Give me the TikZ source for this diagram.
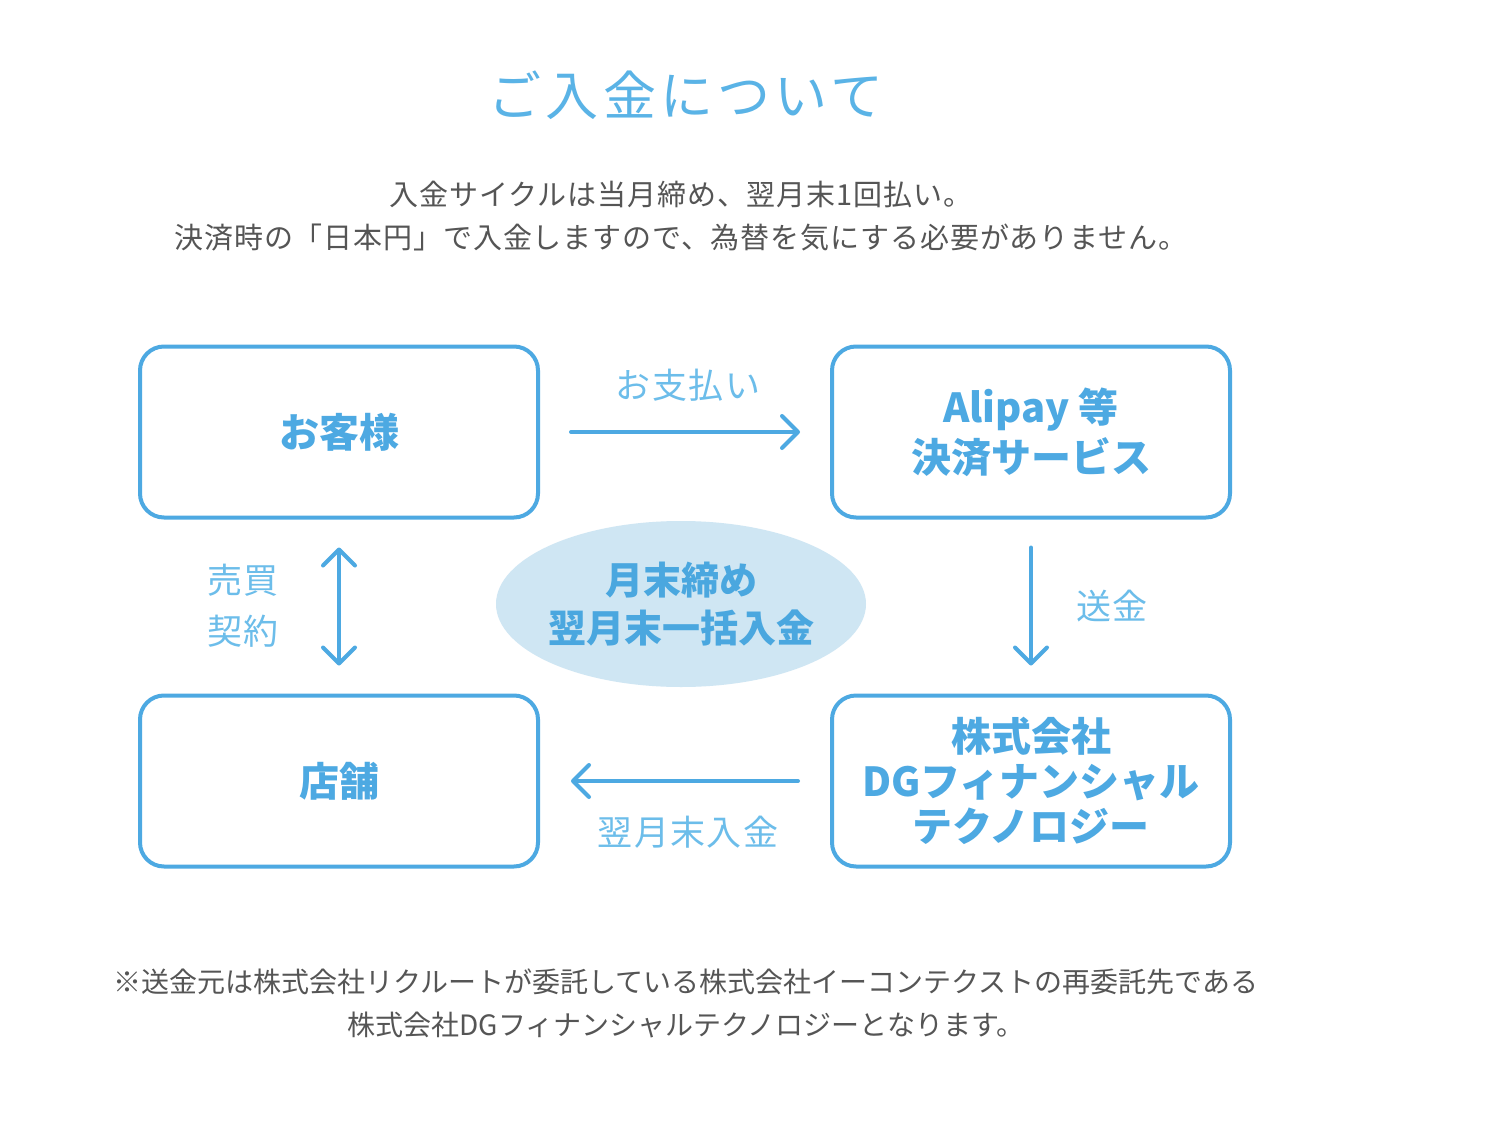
\documentclass[tikz,border=0pt]{standalone}
\usepackage{fontspec}
\usetikzlibrary{arrows.meta,shapes.geometric}
\newfontfamily\jp{Noto Sans CJK JP}
\newfontfamily\jpintro{Noto Sans CJK JP}[LetterSpace=3]
\newfontfamily\jpls{Noto Sans CJK JP}[LetterSpace=4]
\newfontfamily\jptitle{Noto Sans CJK JP}[LetterSpace=8]
\definecolor{boxblue}{HTML}{4DA9E2}
\definecolor{lblblue}{HTML}{6CBDEA}
\definecolor{ttlblue}{HTML}{5AB3E6}
\definecolor{ellfill}{HTML}{CFE6F3}
\definecolor{ell txt}{HTML}{4AA7DF}
\definecolor{graytxt}{HTML}{555555}
\tikzset{
  x=1pt, y=-1pt,
  flowbox/.style={draw=boxblue, line width=4pt, rounded corners=24pt,
    minimum width=398pt, minimum height=171pt, align=center,
    text=boxblue, font=\jp\bfseries\fontsize{40}{50}\selectfont},
  flowarrow/.style={draw=boxblue, line width=4pt, line cap=round,
    -{Straight Barb[length=16pt,width=32pt,round]}},
  lbl/.style={text=lblblue, font=\jpls\fontsize{35}{51}\selectfont, align=center},
  note/.style={text=graytxt, font=\jp\fontsize{28}{43}\selectfont, align=center}
}
\begin{document}
\begin{tikzpicture}
\useasboundingbox[fill=white] (0,0) rectangle (1486,1132);
% title and intro
\node[text=ttlblue, font=\jptitle\fontsize{53}{60}\selectfont] (title) at (686,95) {ご入金について};
\node[note, font=\jpintro\fontsize{29}{43}\selectfont] (intro) at (681,216) {入金サイクルは当月締め、翌月末1回払い。\\決済時の「日本円」で入金しますので、為替を気にする必要がありません。};
% ellipse
\coordinate (ellc) at (681,604);
\fill[ellfill] (ellc) ellipse [x radius=185, y radius=83];
\node[text=ell txt, font=\jp\bfseries\fontsize{38}{48}\selectfont, align=center] (center) at (ellc) {月末締め\\翌月末一括入金};
% boxes
\node[flowbox] (cust) at (339,432) {お客様};
\node[flowbox] (pay) at (1031,432) {Alipay 等\\決済サービス};
\node[flowbox] (shop) at (339,781) {店舗};
\node[flowbox, font=\jp\bfseries\fontsize{40}{45}\selectfont] (dg) at (1031,781) {株式会社\\DGフィナンシャル\\テクノロジー};
% arrows
\draw[flowarrow, shorten <=31pt, shorten >=30pt] (cust.east) -- (pay.west);
\draw[flowarrow, shorten <=28pt, shorten >=28pt] (pay.south) -- (dg.north);
\draw[flowarrow, shorten <=32pt, shorten >=31pt] (dg.west) -- (shop.east);
\draw[flowarrow, {Straight Barb[length=16pt,width=32pt,round]}-{Straight Barb[length=16pt,width=32pt,round]}, shorten <=28pt, shorten >=28pt] (cust.south) -- (shop.north);
% labels
\node[lbl] (lpay) at (688,385) {お支払い};
\node[lbl] (lsend) at (1112,606) {送金};
\node[lbl] (lpayout) at (688,832) {翌月末入金};
\node[lbl] (lcontract) at (243,606) {売買\\契約};
% footnote
\node[note] (foot) at (686,1003) {※送金元は株式会社リクルートが委託している株式会社イーコンテクストの再委託先である\\株式会社DGフィナンシャルテクノロジーとなります。};
\end{tikzpicture}
\end{document}
